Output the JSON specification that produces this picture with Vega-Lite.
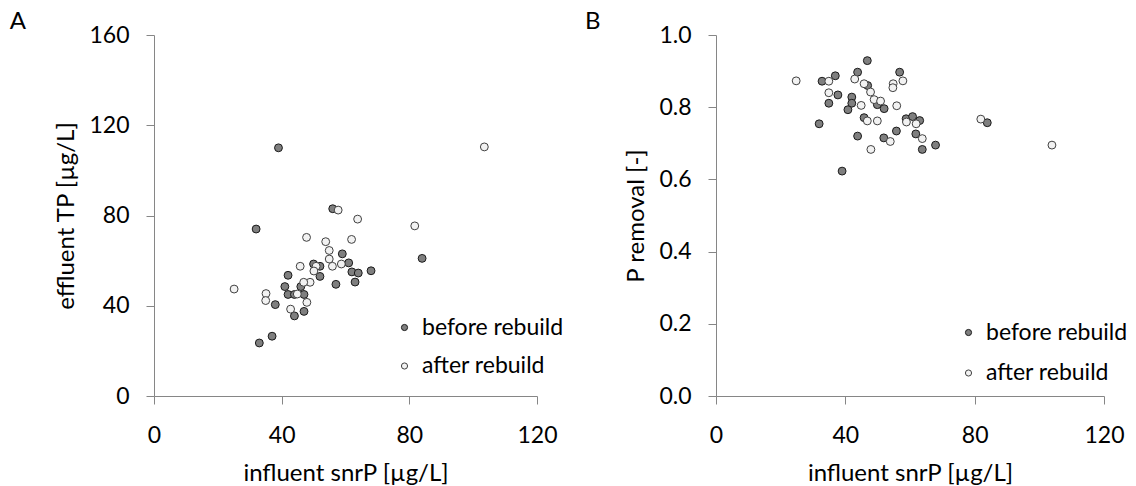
{
  "$schema": "https://vega.github.io/schema/vega-lite/v6.json",
  "background": "white",
  "padding": {"left": 9, "top": 9, "right": 5, "bottom": 5},
  "config": {
    "font": "Lato",
    "view": {"stroke": null},
    "axis": {
      "grid": false,
      "labelFlush": false,
      "domainColor": "#868686",
      "tickColor": "#868686",
      "tickSize": 8,
      "labelFont": "Lato",
      "labelFontSize": 23,
      "labelColor": "#000000",
      "titleFont": "Lato",
      "titleFontSize": 24,
      "titleFontWeight": "normal",
      "titleColor": "#000000"
    },
    "legend": {
      "labelFont": "Lato",
      "labelFontSize": 23,
      "labelColor": "#000000"
    },
    "title": {"font": "Lato", "fontSize": 24, "fontWeight": "normal", "anchor": "start", "frame": "bounds", "color": "#000000"}
  },
  "datasets": {
    "tp": [
      {"period": "before rebuild", "influent": 39, "value": 110},
      {"period": "before rebuild", "influent": 56, "value": 83},
      {"period": "before rebuild", "influent": 32, "value": 74},
      {"period": "before rebuild", "influent": 59, "value": 63},
      {"period": "before rebuild", "influent": 61, "value": 59},
      {"period": "before rebuild", "influent": 50, "value": 58.5},
      {"period": "before rebuild", "influent": 52, "value": 57.5},
      {"period": "before rebuild", "influent": 62, "value": 55},
      {"period": "before rebuild", "influent": 64, "value": 54.5},
      {"period": "before rebuild", "influent": 68, "value": 55.5},
      {"period": "before rebuild", "influent": 52, "value": 53},
      {"period": "before rebuild", "influent": 42, "value": 53.5},
      {"period": "before rebuild", "influent": 57, "value": 49.5},
      {"period": "before rebuild", "influent": 63, "value": 50.5},
      {"period": "before rebuild", "influent": 41, "value": 48.5},
      {"period": "before rebuild", "influent": 46, "value": 48.5},
      {"period": "before rebuild", "influent": 42, "value": 45},
      {"period": "before rebuild", "influent": 44, "value": 45},
      {"period": "before rebuild", "influent": 47, "value": 45},
      {"period": "before rebuild", "influent": 38, "value": 40.5},
      {"period": "before rebuild", "influent": 47, "value": 37.5},
      {"period": "before rebuild", "influent": 44, "value": 35.5},
      {"period": "before rebuild", "influent": 37, "value": 26.5},
      {"period": "before rebuild", "influent": 33, "value": 23.5},
      {"period": "before rebuild", "influent": 84, "value": 61},
      {"period": "after rebuild", "influent": 57.7, "value": 82.4},
      {"period": "after rebuild", "influent": 63.8, "value": 78.4},
      {"period": "after rebuild", "influent": 81.7, "value": 75.4},
      {"period": "after rebuild", "influent": 47.8, "value": 70.3},
      {"period": "after rebuild", "influent": 53.8, "value": 68.4},
      {"period": "after rebuild", "influent": 61.9, "value": 69.4},
      {"period": "after rebuild", "influent": 54.9, "value": 64.5},
      {"period": "after rebuild", "influent": 54.9, "value": 60.7},
      {"period": "after rebuild", "influent": 58.7, "value": 58.5},
      {"period": "after rebuild", "influent": 55.9, "value": 57.5},
      {"period": "after rebuild", "influent": 50.8, "value": 57.5},
      {"period": "after rebuild", "influent": 45.8, "value": 57.5},
      {"period": "after rebuild", "influent": 50.1, "value": 55.4},
      {"period": "after rebuild", "influent": 48.9, "value": 50.4},
      {"period": "after rebuild", "influent": 46.9, "value": 50.4},
      {"period": "after rebuild", "influent": 25.1, "value": 47.4},
      {"period": "after rebuild", "influent": 35.1, "value": 45.4},
      {"period": "after rebuild", "influent": 35.0, "value": 42.3},
      {"period": "after rebuild", "influent": 44.9, "value": 45.2},
      {"period": "after rebuild", "influent": 47.9, "value": 41.5},
      {"period": "after rebuild", "influent": 42.8, "value": 38.5},
      {"period": "after rebuild", "influent": 103.5, "value": 110.4}
    ],
    "removal": [
      {"period": "before rebuild", "influent": 46.8, "value": 0.929},
      {"period": "before rebuild", "influent": 36.9, "value": 0.887},
      {"period": "before rebuild", "influent": 32.8, "value": 0.872},
      {"period": "before rebuild", "influent": 43.8, "value": 0.897},
      {"period": "before rebuild", "influent": 56.8, "value": 0.897},
      {"period": "before rebuild", "influent": 37.7, "value": 0.834},
      {"period": "before rebuild", "influent": 34.9, "value": 0.811},
      {"period": "before rebuild", "influent": 42.0, "value": 0.828},
      {"period": "before rebuild", "influent": 42.0, "value": 0.811},
      {"period": "before rebuild", "influent": 40.8, "value": 0.793},
      {"period": "before rebuild", "influent": 46.9, "value": 0.860},
      {"period": "before rebuild", "influent": 49.9, "value": 0.807},
      {"period": "before rebuild", "influent": 52.0, "value": 0.796},
      {"period": "before rebuild", "influent": 45.8, "value": 0.771},
      {"period": "before rebuild", "influent": 58.8, "value": 0.768},
      {"period": "before rebuild", "influent": 60.8, "value": 0.774},
      {"period": "before rebuild", "influent": 63.0, "value": 0.763},
      {"period": "before rebuild", "influent": 31.9, "value": 0.754},
      {"period": "before rebuild", "influent": 55.8, "value": 0.734},
      {"period": "before rebuild", "influent": 61.8, "value": 0.726},
      {"period": "before rebuild", "influent": 43.8, "value": 0.720},
      {"period": "before rebuild", "influent": 51.9, "value": 0.715},
      {"period": "before rebuild", "influent": 67.9, "value": 0.695},
      {"period": "before rebuild", "influent": 63.8, "value": 0.683},
      {"period": "before rebuild", "influent": 39.0, "value": 0.623},
      {"period": "before rebuild", "influent": 83.9, "value": 0.757},
      {"period": "after rebuild", "influent": 24.8, "value": 0.873},
      {"period": "after rebuild", "influent": 34.9, "value": 0.872},
      {"period": "after rebuild", "influent": 42.9, "value": 0.878},
      {"period": "after rebuild", "influent": 45.8, "value": 0.865},
      {"period": "after rebuild", "influent": 54.8, "value": 0.865},
      {"period": "after rebuild", "influent": 57.8, "value": 0.873},
      {"period": "after rebuild", "influent": 54.7, "value": 0.854},
      {"period": "after rebuild", "influent": 34.9, "value": 0.840},
      {"period": "after rebuild", "influent": 47.8, "value": 0.842},
      {"period": "after rebuild", "influent": 48.9, "value": 0.821},
      {"period": "after rebuild", "influent": 50.9, "value": 0.817},
      {"period": "after rebuild", "influent": 44.9, "value": 0.805},
      {"period": "after rebuild", "influent": 55.9, "value": 0.804},
      {"period": "after rebuild", "influent": 46.8, "value": 0.762},
      {"period": "after rebuild", "influent": 49.9, "value": 0.762},
      {"period": "after rebuild", "influent": 58.9, "value": 0.759},
      {"period": "after rebuild", "influent": 61.9, "value": 0.754},
      {"period": "after rebuild", "influent": 63.8, "value": 0.713},
      {"period": "after rebuild", "influent": 53.9, "value": 0.705},
      {"period": "after rebuild", "influent": 47.9, "value": 0.683},
      {"period": "after rebuild", "influent": 81.9, "value": 0.767},
      {"period": "after rebuild", "influent": 103.9, "value": 0.695}
    ]
  },
  "hconcat": [
    {
      "title": {"text": "A", "dx": -45.3, "offset": -9.5},
      "width": 383,
      "height": 361,
      "data": {"name": "tp"},
      "mark": {"type": "point", "shape": "circle", "filled": true, "size": 62, "strokeWidth": 1, "opacity": 1},
      "encoding": {
        "x": {"field": "influent", "type": "quantitative", "scale": {"domain": [0, 120], "nice": false}, "axis": {"title": "influent snrP [µg/L]", "values": [0, 40, 80, 120], "labelPadding": 20, "titlePadding": 14}},
        "y": {"field": "value", "type": "quantitative", "scale": {"domain": [0, 160], "nice": false}, "axis": {"title": "effluent TP [µg/L]", "values": [0, 40, 80, 120, 160], "labelPadding": 17, "titlePadding": 10}},
        "fill": {"field": "period", "type": "nominal", "scale": {"domain": ["before rebuild", "after rebuild"], "range": ["#7f7f7f", "#f2f2f2"]}, "legend": {"title": null, "orient": "none", "legendX": 239, "legendY": 281, "symbolSize": 38, "symbolStrokeWidth": 1, "rowPadding": 14.5, "labelOffset": 6, "padding": 0}},
        "stroke": {"field": "period", "type": "nominal", "scale": {"domain": ["before rebuild", "after rebuild"], "range": ["#1a1a1a", "#404040"]}, "legend": null},
        "order": {"field": "period", "sort": "descending"}
      }
    },
    {
      "title": {"text": "B", "dx": -40, "offset": -9.5},
      "width": 388,
      "height": 361,
      "data": {"name": "removal"},
      "mark": {"type": "point", "shape": "circle", "filled": true, "size": 62, "strokeWidth": 1, "opacity": 1},
      "encoding": {
        "x": {"field": "influent", "type": "quantitative", "scale": {"domain": [0, 120], "nice": false}, "axis": {"title": "influent snrP [µg/L]", "values": [0, 40, 80, 120], "labelPadding": 20, "titlePadding": 14}},
        "y": {"field": "value", "type": "quantitative", "scale": {"domain": [0, 1], "nice": false}, "axis": {"title": "P removal [-]", "values": [0, 0.2, 0.4, 0.6, 0.8, 1.0], "format": ".1f", "labelPadding": 17, "titlePadding": 10}},
        "fill": {"field": "period", "type": "nominal", "scale": {"domain": ["before rebuild", "after rebuild"], "range": ["#7f7f7f", "#f2f2f2"]}, "legend": {"title": null, "orient": "none", "legendX": 241, "legendY": 286, "symbolSize": 38, "symbolStrokeWidth": 1, "rowPadding": 16.5, "labelOffset": 6, "padding": 0}},
        "stroke": {"field": "period", "type": "nominal", "scale": {"domain": ["before rebuild", "after rebuild"], "range": ["#1a1a1a", "#404040"]}, "legend": null},
        "order": {"field": "period", "sort": "descending"}
      }
    }
  ],
  "spacing": 20,
  "resolve": {"scale": {"fill": "independent", "stroke": "independent", "x": "independent", "y": "independent"}, "legend": {"fill": "independent", "stroke": "independent"}}
}
